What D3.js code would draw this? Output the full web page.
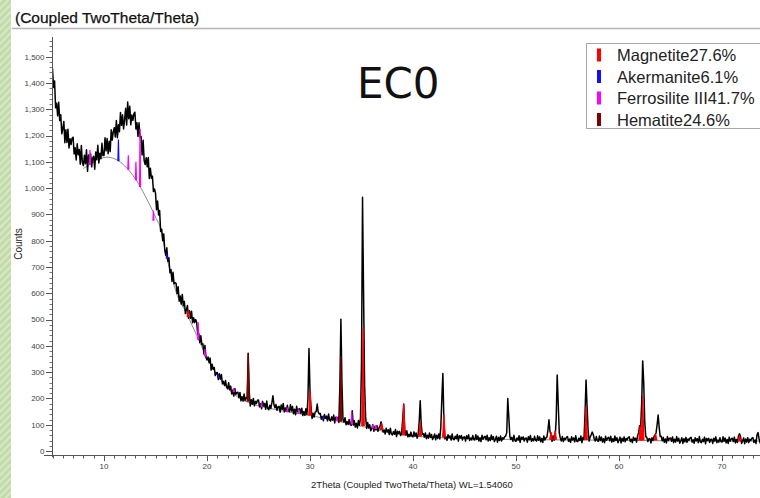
<!DOCTYPE html>
<html><head><meta charset="utf-8">
<script src="https://cdn.jsdelivr.net/npm/d3@7"></script>
<style>body{margin:0;background:#fff}svg{display:block}</style>
</head><body><svg id="c" width="760" height="498"></svg>
<script>
const title = "(Coupled TwoTheta/Theta)";
const xLabel = "2Theta (Coupled TwoTheta/Theta) WL=1.54060";
const yLabel = "Counts";
const sampleLabel = "EC0";
const xTicks = [10,20,30,40,50,60,70];
const yTicks = [0,100,200,300,400,500,600,700,800,900,1000,1100,1200,1300,1400,1500];

// observed pattern, 2theta from 5.0 step 0.1
const obsStart = 5.0, obsStep = 0.1;
const observed = [
1455,1383,1408,1306,1323,1275,1327,1257,1279,1207,
1227,1254,1173,1222,1174,1224,1153,1188,1166,1190,
1194,1130,1154,1107,1169,1127,1147,1091,1162,1097,
1086,1125,1093,1146,1064,1126,1101,1130,1081,1115,
1121,1072,1138,1109,1163,1096,1133,1112,1171,1124,
1124,1192,1142,1189,1131,1178,1139,1222,1183,1215,
1230,1195,1257,1192,1241,1215,1288,1239,1279,1225,
1260,1304,1240,1328,1264,1312,1241,1278,1258,1283,
1289,1225,1249,1197,1249,1192,1197,1126,1182,1104,
1090,1116,1081,1117,1037,1076,1038,1046,987,997,
981,918,951,898,915,835,844,800,826,764,
744,773,722,735,678,691,645,680,636,641,
637,599,625,570,590,559,596,553,569,523,
537,554,505,534,505,532,488,507,489,500,
489,444,448,412,439,405,408,369,402,356,
346,358,336,354,308,330,311,318,287,297,
299,272,294,274,291,255,265,249,268,243,
237,260,233,247,217,232,209,238,215,223,
224,203,223,191,207,190,217,192,204,200,
372,225,171,195,178,200,172,189,181,193,
194,168,180,161,189,171,181,159,190,162,
157,174,162,184,210,176,165,177,155,169,
170,148,175,159,181,149,164,152,174,153,
150,176,152,170,142,159,138,170,149,159,
161,144,163,135,150,136,161,139,200,390,
230,165,124,144,129,148,150,179,148,141,
143,121,131,115,139,125,133,115,141,118,
114,130,118,137,107,129,118,128,109,250,
501,260,123,110,127,100,112,101,120,101,
98,153,99,115,91,106,88,116,98,125,
330,965,600,250,130,86,109,88,100,77,
88,100,75,94,80,97,75,88,95,111,
92,72,80,65,87,73,81,63,87,65,
61,74,64,82,55,75,67,75,59,69,
120,179,80,61,77,54,64,55,72,56,
54,73,56,69,49,62,110,191,100,63,
66,53,69,47,60,49,69,52,63,44,
53,65,43,60,48,65,46,90,200,295,
110,46,55,41,62,50,58,42,65,45,
43,56,47,63,38,58,50,59,42,53,
54,38,58,47,62,40,50,42,59,44,
42,62,44,57,38,51,36,60,45,53,
56,43,60,38,51,40,61,44,55,36,
44,56,34,52,40,57,38,51,46,55,
57,70,200,130,56,44,52,37,60,40,
37,50,41,58,33,53,45,54,38,49,
50,34,54,43,59,37,47,39,56,41,
38,58,41,54,35,48,33,57,42,50,
53,80,119,75,60,37,58,41,52,120,
289,180,70,50,38,55,36,49,44,53,
55,37,46,33,54,42,50,35,58,38,
36,49,40,57,32,52,44,140,270,170,
80,38,53,62,72,63,46,38,55,40,
37,57,40,53,34,47,32,56,41,49,
52,39,56,34,47,36,57,40,51,32,
41,53,31,49,37,54,35,48,43,52,
54,36,45,32,53,41,49,34,57,70,
96,90,180,343,260,110,55,52,36,47,
47,31,51,40,56,60,70,100,137,90,
55,56,39,52,33,46,31,55,40,48,
50,37,54,32,45,34,55,38,49,30,
39,51,29,47,35,52,33,46,41,50,
52,34,43,30,51,39,47,32,55,35,
32,45,36,53,28,48,40,49,33,44,
45,29,49,38,54,32,42,34,51,36,
34,54,37,50,31,44,29,53,38,46,
49,36,53,31,44,33,58,66,55,29,
38,50,28,46,34,51,32,45,40,49,
51,33,42,29,62,70,46,31,54,34,
33,46,37,54,29,49,41,50,34,45
];

// fitted background
const bgTheta  = [8.0,8.6,9.5,10.3,11.0,11.5,12.0,12.5,13.0,13.5,14.0,14.5,15.0,15.5,16.0,16.5,17,18,19,20,21,22,23,24,25,26,28,30,32,34,36,38,40,45,50,55,60,65,70,75];
const bgCounts = [1075,1090,1110,1118,1112,1102,1085,1064,1038,1007,970,932,890,845,750,675,605,525,440,355,290,240,205,185,172,163,148,135,120,102,86,67,57,48,44,42,41,39,38,38];

// phases: [2theta, base counts, top counts]
const phaseNames = ["Magnetite27.6%","Akermanite6.1%","Ferrosilite III41.7%","Hematite24.6%"];
const magnetitePeaks = [[18.2,512,535],[30.0,138,229],[35.15,98,470],[36.95,82,105],[39.1,62,179],[40.7,58,110],[43.0,54,140],[53.4,45,72],[53.8,45,77],[56.8,44,172],[62.05,42,96],[62.3,42,210],[63.55,42,65],[71.7,40,60]];
const akermanitePeaks = [[11.4,1105,1185],[16.1,735,752],[21.1,280,292],[31.3,125,135]];
const ferrosilitePeaks = [[8.64,1090,1145],[12.36,1072,1125],[13.1,1032,1100],[13.5,1007,1225],[14.8,878,915],[19.15,425,490],[19.8,362,388],[22.6,226,240],[25.3,170,185],[27.8,150,165],[28.9,144,160],[32.6,117,132],[34.05,103,150],[36.1,88,100],[36.4,86,98]];
const hematitePeaks = [[24.0,190,372],[33.0,114,362]];
const phasePeaks = [magnetitePeaks, akermanitePeaks, ferrosilitePeaks, hematitePeaks];
const phaseColors = ["#ff0000","#1010f0","#ff00ff","#800000"];
const phaseHalfWidth = [0.12, 0.05, 0.05, 0.1];

const svg = d3.select("#c");
const W = 760, H = 498;
const x = d3.scaleLinear().domain([5,75]).range([52.5,773.5]);
const y = d3.scaleLinear().domain([-15,1575]).range([455,37]);
const font = "'Liberation Sans', Arial, sans-serif";

// left decorative strip
const defs = svg.append("defs");
const pat = defs.append("pattern").attr("id","stripes").attr("patternUnits","userSpaceOnUse")
  .attr("width",5).attr("height",5).attr("patternTransform","rotate(45)");
pat.append("rect").attr("width",5).attr("height",5).attr("fill","#c3dbab");
pat.append("rect").attr("width",2).attr("height",5).attr("fill","#d6e8c4");
svg.append("rect").attr("x",0).attr("y",0).attr("width",11).attr("height",H).attr("fill","url(#stripes)");

// title
svg.append("text").attr("x",15).attr("y",23).attr("font-family",font).attr("font-size",15.5)
  .attr("fill","#111").attr("stroke","#111").attr("stroke-width",0.25).text(title);
svg.append("line").attr("x1",12).attr("x2",W).attr("y1",28.5).attr("y2",28.5)
  .attr("stroke","#b4b4b4").attr("stroke-width",1.5);

const clip = defs.append("clipPath").attr("id","plotclip");
clip.append("rect").attr("x",52.5).attr("y",30).attr("width",W-52.5).attr("height",426);

const plot = svg.append("g").attr("clip-path","url(#plotclip)");

// background line
const bgData = bgTheta.map((t,i)=>[t,bgCounts[i]]);
plot.append("path").datum(bgData)
  .attr("d", d3.line().x(d=>x(d[0])).y(d=>y(d[1])).curve(d3.curveMonotoneX))
  .attr("fill","none").attr("stroke","#8a8a8a").attr("stroke-width",1);

// observed
const obsData = observed.map((c,i)=>[obsStart + i*obsStep, c]);
plot.append("path").datum(obsData)
  .attr("d", d3.line().x(d=>x(d[0])).y(d=>y(d[1])))
  .attr("fill","none").attr("stroke","#000").attr("stroke-width",1.5).attr("stroke-linejoin","round");

// phase peaks
phasePeaks.forEach((peaks, pi) => {
  const hw = phaseHalfWidth[pi];
  plot.append("g").selectAll("path").data(peaks).join("path")
    .attr("d", d => `M${x(d[0]-hw)},${y(d[1])}L${x(d[0])},${y(d[2])}L${x(d[0]+hw)},${y(d[1])}Z`)
    .attr("fill", phaseColors[pi]).attr("stroke", phaseColors[pi]).attr("stroke-width",1.2);
});

// y axis
const axisCol = "#555";
svg.append("line").attr("x1",52.5).attr("x2",52.5).attr("y1",37).attr("y2",457).attr("stroke",axisCol);
const yMinor = d3.range(0,1580,20);
svg.append("g").selectAll("line").data(yMinor).join("line")
  .attr("x1",49.5).attr("x2",52.5).attr("y1",d=>Math.round(y(d))+0.5).attr("y2",d=>Math.round(y(d))+0.5)
  .attr("stroke",axisCol).attr("stroke-width",0.8);
svg.append("g").selectAll("line").data(yTicks).join("line")
  .attr("x1",46).attr("x2",52.5).attr("y1",d=>Math.round(y(d))+0.5).attr("y2",d=>Math.round(y(d))+0.5)
  .attr("stroke",axisCol);
svg.append("g").selectAll("text").data(yTicks).join("text")
  .attr("x",44.5).attr("y",d=>y(d)).attr("dy","0.35em").attr("text-anchor","end")
  .attr("font-family",font).attr("font-size",8).attr("fill","#444").text(d=>d3.format(",")(d));

// x axis
svg.append("line").attr("x1",44).attr("x2",W).attr("y1",455.5).attr("y2",455.5).attr("stroke",axisCol);
const xMinor = d3.range(5,75,1);
svg.append("g").selectAll("line").data(xMinor).join("line")
  .attr("x1",d=>Math.round(x(d))+0.5).attr("x2",d=>Math.round(x(d))+0.5)
  .attr("y1",455.5).attr("y2",d=> d%10===0 ? 461 : 458.5).attr("stroke",axisCol);
svg.append("g").selectAll("text").data(xTicks).join("text")
  .attr("x",d=>x(d)).attr("y",469).attr("text-anchor","middle")
  .attr("font-family",font).attr("font-size",8).attr("fill","#444").text(d=>d);

svg.append("text").attr("x",412).attr("y",488).attr("text-anchor","middle")
  .attr("font-family",font).attr("font-size",9.5).attr("fill","#222").text(xLabel);
svg.append("text").attr("transform","translate(22,244) rotate(-90)").attr("text-anchor","middle")
  .attr("font-family",font).attr("font-size",10).attr("fill","#222").text(yLabel);

// sample label
svg.append("text").attr("x",357).attr("y",98).attr("font-family","'DejaVu Sans', sans-serif")
  .attr("font-size",42).attr("fill","#111").text(sampleLabel);

// legend
svg.append("rect").attr("x",586.5).attr("y",43.5).attr("width",200).attr("height",85)
  .attr("fill","#fff").attr("stroke","#a8a8a8");
const rowY = [55,76.5,98,119.5];
phaseNames.forEach((n,i)=>{
  svg.append("rect").attr("x",597).attr("y",rowY[i]-6.5).attr("width",4).attr("height",13).attr("fill",phaseColors[i]);
  svg.append("text").attr("x",617).attr("y",rowY[i]+6).attr("font-family",font).attr("font-size",16.5)
    .attr("fill","#222").text(n);
});
</script></body></html>
